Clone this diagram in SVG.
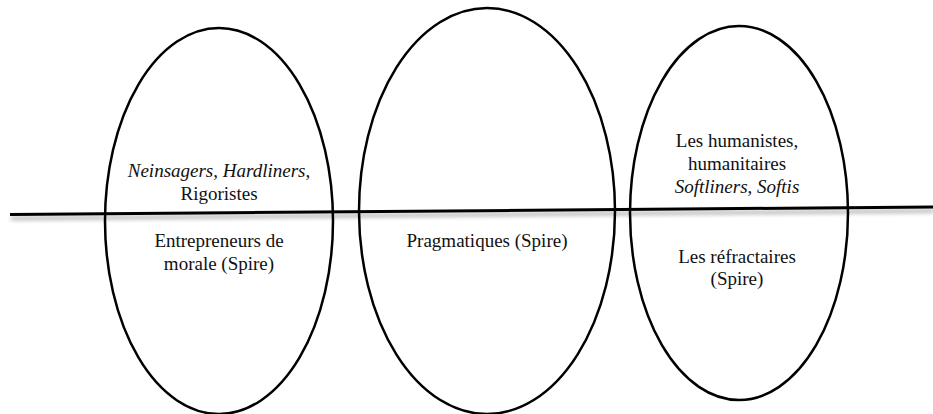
<svg xmlns="http://www.w3.org/2000/svg" width="933" height="414" viewBox="0 0 933 414">
  <defs>
    <filter id="shadow" x="-5%" y="-200%" width="110%" height="500%">
      <feGaussianBlur in="SourceAlpha" stdDeviation="2"/>
      <feOffset dx="1" dy="4" result="b"/>
      <feComponentTransfer><feFuncA type="linear" slope="0.35"/></feComponentTransfer>
      <feMerge><feMergeNode/><feMergeNode in="SourceGraphic"/></feMerge>
    </filter>
  </defs>
  <style>
    .ell { fill: none; stroke: #000; stroke-width: 2.5; }
    .lbl { font-family: "Liberation Serif", "Times New Roman", serif; font-size: 19px; fill: #111; text-anchor: middle; }
    .it { font-style: italic; }
    .axis { stroke: #000; stroke-width: 3; fill: none; }
  </style>
  <rect width="933" height="414" fill="#fff"/>
  <g id="connectors">
    <line class="axis" x1="10" y1="214.5" x2="933" y2="207" filter="url(#shadow)"/>
  </g>
  <g id="node-rigoristes">
    <ellipse class="ell" cx="219" cy="221" rx="114" ry="193"/>
    <text class="lbl" x="219" y="177"><tspan class="it">Neinsagers</tspan>, <tspan class="it">Hardliners</tspan>,</text>
    <text class="lbl" x="219" y="200">Rigoristes</text>
    <text class="lbl" x="219" y="247">Entrepreneurs de</text>
    <text class="lbl" x="219" y="270">morale (Spire)</text>
  </g>
  <g id="node-pragmatiques">
    <ellipse class="ell" cx="487" cy="211" rx="128" ry="203"/>
    <text class="lbl" x="487" y="247">Pragmatiques (Spire)</text>
  </g>
  <g id="node-humanistes">
    <ellipse class="ell" cx="739" cy="213" rx="109" ry="187"/>
    <text class="lbl" x="737" y="147">Les humanistes,</text>
    <text class="lbl" x="737" y="170">humanitaires</text>
    <text class="lbl" x="737" y="193"><tspan class="it">Softliners</tspan>, <tspan class="it">Softis</tspan></text>
    <text class="lbl" x="737" y="263">Les réfractaires</text>
    <text class="lbl" x="737" y="285">(Spire)</text>
  </g>
</svg>
